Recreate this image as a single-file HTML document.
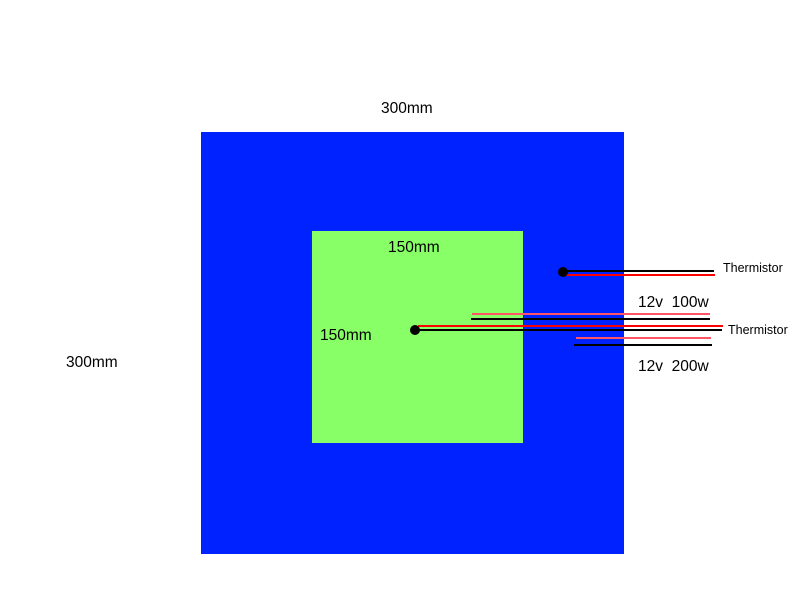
<!DOCTYPE html>
<html><head><style>
html,body{margin:0;padding:0;background:#fff;width:800px;height:600px;overflow:hidden}
svg text{font-family:"Liberation Sans",sans-serif;fill:#000;white-space:pre}
</style></head><body>
<svg width="800" height="600" xmlns="http://www.w3.org/2000/svg">
<rect x="201" y="132" width="423" height="422" fill="#0022ff"/>
<rect x="312" y="231" width="211" height="212" fill="#88ff66"/>
<text x="381" y="113" font-size="15.5">300mm</text>
<text x="66" y="367" font-size="15.5">300mm</text>
<text x="388" y="252" font-size="15.5">150mm</text>
<text x="320" y="340" font-size="15.5">150mm</text>
<text x="638" y="307" font-size="15.5" xml:space="preserve">12v  100w</text>
<text x="638" y="371" font-size="15.5" xml:space="preserve">12v  200w</text>
<text x="723" y="272" font-size="12.5">Thermistor</text>
<text x="728" y="334" font-size="12.5">Thermistor</text>
<g stroke-width="2">
<line x1="563" y1="271" x2="714" y2="271" stroke="#000"/>
<line x1="566" y1="275" x2="715" y2="275" stroke="#ff0000"/>
<line x1="472" y1="314" x2="710" y2="314" stroke="#ff5566"/>
<line x1="471" y1="319" x2="710" y2="319" stroke="#000"/>
<line x1="418" y1="326" x2="723" y2="326" stroke="#ff0000"/>
<line x1="415" y1="330" x2="722" y2="330" stroke="#000"/>
<line x1="576" y1="338" x2="711" y2="338" stroke="#ff5566"/>
<line x1="574" y1="345" x2="712" y2="345" stroke="#000"/>
</g>
<circle cx="563" cy="272" r="5" fill="#000"/>
<circle cx="415" cy="330" r="5" fill="#000"/>
</svg>
</body></html>
